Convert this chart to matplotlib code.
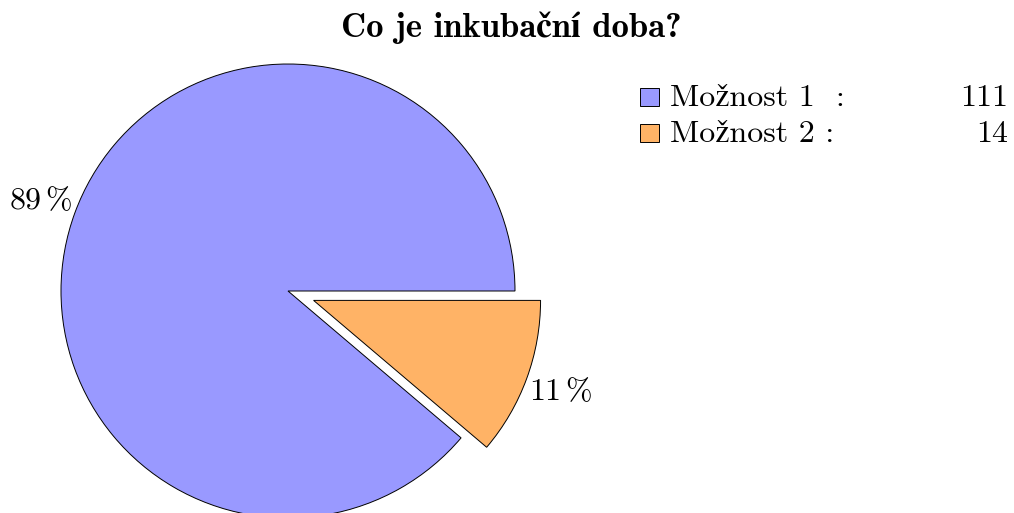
import matplotlib
matplotlib.use("Agg")
import matplotlib.pyplot as plt
from matplotlib.patches import Rectangle

# Computer Modern from matplotlib's own fonts, STIX for the accented letters
plt.rcParams["mathtext.fontset"] = "cm"
RM = ["cmr10", "STIXGeneral"]
BF = ["cmb10", "STIXGeneral"]

title = "Co je inkubační doba?"
labels = ["Možnost 1  :", "Možnost 2 :"]
counts = [111, 14]
colors = ["#9999ff", "#ffb366"]
explode = [0.0, 0.12]

W, H = 1014, 513
fig = plt.figure(figsize=(W / 100, H / 100), dpi=100)

# pie centre at (288, 291) px from top-left, radius 227 px
r_px = 227
lim = 1.25
side = 2 * lim * r_px
ax = fig.add_axes([(288 - side / 2) / W, (H - 291 - side / 2) / H, side / W, side / H])

wedges, texts, autotexts = ax.pie(
    counts,
    colors=colors,
    explode=explode,
    startangle=0,
    counterclock=True,
    autopct=lambda p: "%d$\\,$%%" % round(p),
    pctdistance=1.16,
    wedgeprops=dict(edgecolor="black", linewidth=0.7),
    textprops=dict(fontsize=23, family=RM),
    radius=1.0,
)
ax.set_xlim(-lim, lim)
ax.set_ylim(-lim, lim)
ax.set_aspect("equal")
ax.axis("off")

fig.text(511 / W, 1 - 37 / H, title, ha="center", va="baseline",
         fontsize=25, family=BF, fontweight="bold")

# legend with right-aligned counts
for i, (lab, n, c) in enumerate(zip(labels, counts, colors)):
    base = 1 - (106 + 36 * i) / H
    fig.patches.append(Rectangle((640 / W, base), 19 / W, 18 / H,
                                 facecolor=c, edgecolor="black", linewidth=0.7,
                                 transform=fig.transFigure))
    fig.text(670 / W, base, lab, ha="left", va="baseline", fontsize=23, family=RM)
    fig.text(1008 / W, base, str(n), ha="right", va="baseline", fontsize=23, family=RM)

fig.savefig("out.png", dpi=100)
